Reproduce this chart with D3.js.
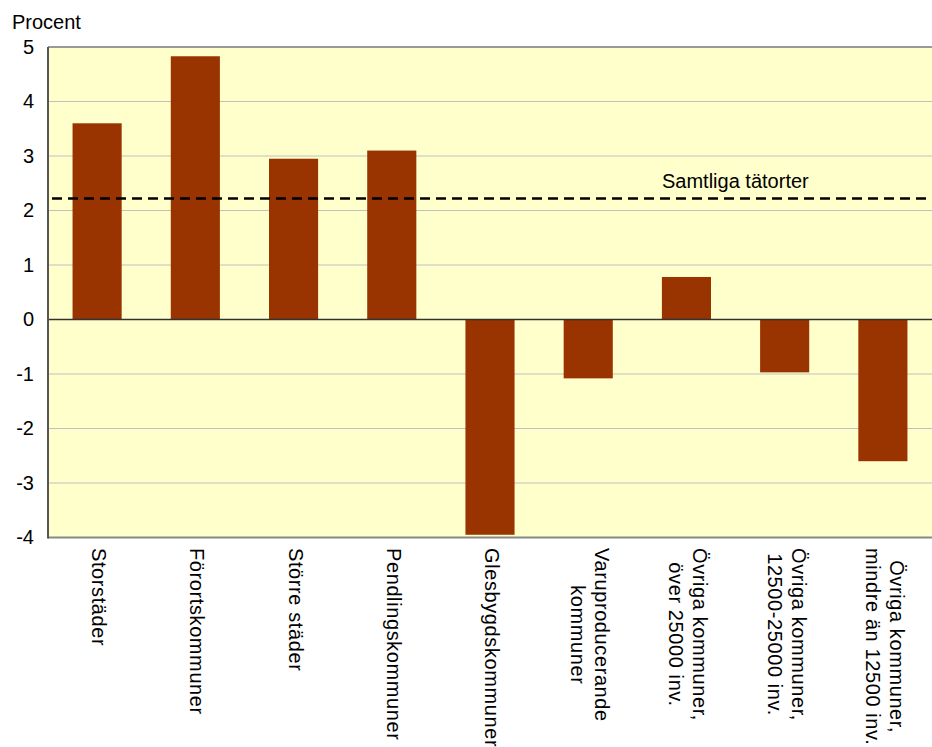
<!DOCTYPE html>
<html>
<head>
<meta charset="utf-8">
<script src="https://cdn.jsdelivr.net/npm/d3@7"></script>
<style>
  html, body { margin: 0; padding: 0; background: #ffffff; }
  svg { display: block; font-family: "Liberation Sans", Arial, sans-serif; }
</style>
</head>
<body>
<svg id="chart" width="932" height="747"></svg>
<script>
const categories = [
  ["Storstäder"],
  ["Förortskommuner"],
  ["Större städer"],
  ["Pendlingskommuner"],
  ["Glesbygdskommuner"],
  ["Varuproducerande", "kommuner"],
  ["Övriga kommuner,", "över 25000 inv."],
  ["Övriga kommuner,", "12500-25000 inv."],
  ["Övriga kommuner,", "mindre än 12500 inv."]
];
const values = [3.60, 4.83, 2.95, 3.10, -3.95, -1.08, 0.78, -0.97, -2.60];
const averageValue = 2.22;
const averageLabel = "Samtliga tätorter";
const yTicks = [5, 4, 3, 2, 1, 0, -1, -2, -3, -4];
const yTitle = "Procent";

(function () {
const svg = d3.select("#chart");
const pL = 48, pR = 932, pT = 47, pB = 537.5;

const x = d3.scaleBand().domain(d3.range(categories.length)).range([pL, pR]).paddingInner(0.5).paddingOuter(0.25);
const y = d3.scaleLinear().domain([-4, 5]).range([pB, pT]);

// plot background
svg.append("rect").attr("x", pL).attr("y", pT).attr("width", pR - pL).attr("height", pB - pT).attr("fill", "#ffffcc");

// gridlines
svg.append("g").selectAll("line").data(yTicks.filter(d => d !== 0 && d !== 5 && d !== -4)).join("line")
  .attr("x1", pL).attr("x2", pR)
  .attr("y1", d => y(d)).attr("y2", d => y(d))
  .attr("stroke", "#c0c0c0").attr("stroke-width", 1);

// bars
svg.append("g").selectAll("rect").data(values).join("rect")
  .attr("x", (d, i) => x(i))
  .attr("width", x.bandwidth())
  .attr("y", d => y(Math.max(0, d)))
  .attr("height", d => Math.abs(y(d) - y(0)))
  .attr("fill", "#993300");

// zero line
svg.append("line").attr("x1", pL).attr("x2", pR).attr("y1", y(0)).attr("y2", y(0))
  .attr("stroke", "#333333").attr("stroke-width", 1.5);

// average dashed line
svg.append("line").attr("x1", pL + 4).attr("x2", pR - 4)
  .attr("y1", y(averageValue)).attr("y2", y(averageValue))
  .attr("stroke", "#000").attr("stroke-width", 2.5).attr("stroke-dasharray", "10,6");
svg.append("text").attr("x", 662).attr("y", y(averageValue) - 11)
  .attr("font-size", 20).attr("fill", "#000").text(averageLabel);

// borders
svg.append("line").attr("x1", pL).attr("x2", pR).attr("y1", pT).attr("y2", pT)
  .attr("stroke", "#999999").attr("stroke-width", 2);
svg.append("line").attr("x1", pL).attr("x2", pR).attr("y1", pB).attr("y2", pB)
  .attr("stroke", "#888888").attr("stroke-width", 2);
svg.append("line").attr("x1", pL).attr("x2", pL).attr("y1", pT).attr("y2", pB + 1)
  .attr("stroke", "#555555").attr("stroke-width", 2);

// y axis labels
const yAxis = d3.axisLeft(y).tickValues(yTicks).tickSize(0).tickPadding(14).tickFormat(d3.format("d"));
const ya = svg.append("g").attr("transform", `translate(${pL},0)`).call(yAxis);
ya.select(".domain").remove();
ya.selectAll("text").attr("font-size", 20).attr("fill", "#000").attr("font-family", "Liberation Sans, Arial, sans-serif")
  .text(d => d < 0 ? "-" + Math.abs(d) : d);

svg.append("text").attr("x", 12).attr("y", 29).attr("font-size", 20).attr("fill", "#000").text(yTitle);

// category labels (rotated 90° clockwise)
const lineH = 24;
const labelTop = 548;
categories.forEach((lines, i) => {
  const cx = x(i) + x.bandwidth() / 2;
  const g = svg.append("g").attr("transform", `translate(${cx},${labelTop}) rotate(90)`);
  const texts = lines.map((t, j) => g.append("text")
    .attr("font-size", 20).attr("letter-spacing", 0.6).attr("fill", "#000")
    .attr("y", (j - (lines.length - 1) / 2) * lineH).attr("dy", "0.25em").text(t));
  const widths = texts.map(t => t.node().getComputedTextLength());
  const maxW = d3.max(widths);
  texts.forEach((t, j) => t.attr("x", (maxW - widths[j]) / 2));
});
})();
</script>
</body>
</html>
